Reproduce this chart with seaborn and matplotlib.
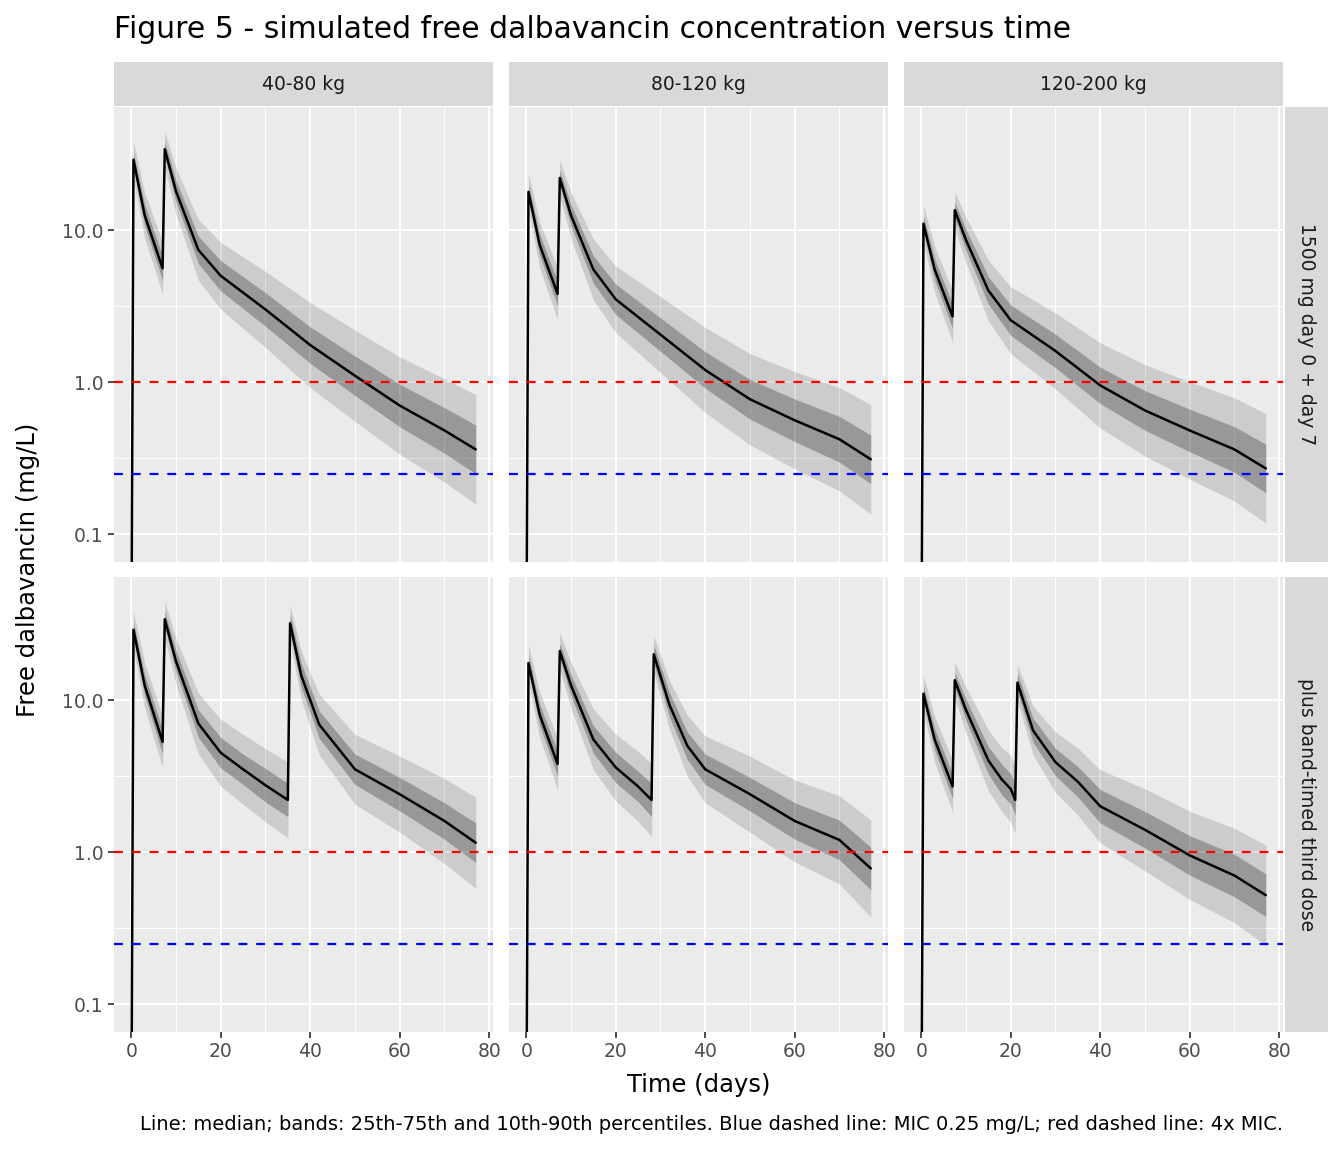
import matplotlib
matplotlib.use("Agg")
import matplotlib.pyplot as plt
import seaborn as sns
import numpy as np
import pandas as pd

weights = ["40-80 kg", "80-120 kg", "120-200 kg"]
regimens = ["1500 mg day 0 + day 7", "plus band-timed third dose"]

# median profiles (row, col)
t_r1 = [0, 0.5, 3, 7, 7.5, 10, 15, 20, 30, 40, 50, 60, 70, 77]
med_r1 = [
    [0.01, 29, 12.5, 5.6, 34, 18, 7.4, 5.0, 3.0, 1.75, 1.1, 0.7, 0.48, 0.36],
    [0.01, 17.8, 8.0, 3.8, 22, 12.5, 5.5, 3.5, 2.05, 1.2, 0.77, 0.56, 0.42, 0.31],
    [0.01, 11, 5.5, 2.7, 13.5, 8.6, 4.0, 2.55, 1.6, 0.95, 0.65, 0.48, 0.36, 0.27],
]
# log10 spreads (25-75 half width, 10-90 half width)
s25_r1 = [0, 0.05, 0.07, 0.08, 0.05, 0.07, 0.09, 0.1, 0.11, 0.12, 0.13, 0.14, 0.15, 0.16]
s10_r1 = [0, 0.12, 0.15, 0.17, 0.12, 0.15, 0.2, 0.22, 0.25, 0.28, 0.3, 0.32, 0.34, 0.36]

t_r2 = [
    [0, 0.5, 3, 7, 7.5, 10, 15, 20, 25, 30, 35, 35.5, 38, 42, 50, 60, 70, 77],
    [0, 0.5, 3, 7, 7.5, 10, 15, 20, 25, 28, 28.5, 32, 36, 40, 50, 60, 70, 77],
    [0, 0.5, 3, 7, 7.5, 10, 15, 18, 20, 21, 21.5, 25, 30, 35, 40, 50, 60, 70, 77],
]
med_r2 = [
    [0.01, 29, 12.5, 5.3, 34, 18, 7.0, 4.5, 3.5, 2.75, 2.2, 32, 14.5, 6.9, 3.5, 2.4, 1.6, 1.15],
    [0.01, 17.5, 8.0, 3.8, 21, 12.5, 5.5, 3.6, 2.7, 2.2, 20, 9.3, 5.0, 3.5, 2.4, 1.6, 1.2, 0.78],
    [0.01, 11, 5.5, 2.7, 13.5, 8.6, 4.0, 3.0, 2.6, 2.2, 13, 6.3, 3.9, 2.9, 2.0, 1.4, 0.95, 0.7, 0.52],
]
s25_r2 = [
    [0, 0.05, 0.07, 0.08, 0.05, 0.07, 0.09, 0.1, 0.1, 0.11, 0.11, 0.06, 0.08, 0.09, 0.1, 0.11, 0.12, 0.13],
    [0, 0.05, 0.07, 0.08, 0.05, 0.07, 0.09, 0.1, 0.1, 0.11, 0.06, 0.08, 0.09, 0.1, 0.11, 0.12, 0.13, 0.14],
    [0, 0.05, 0.07, 0.08, 0.05, 0.07, 0.09, 0.1, 0.1, 0.1, 0.06, 0.08, 0.09, 0.1, 0.11, 0.12, 0.13, 0.14, 0.14],
]
s10_r2 = [
    [0, 0.12, 0.15, 0.17, 0.12, 0.15, 0.2, 0.22, 0.23, 0.24, 0.25, 0.12, 0.16, 0.2, 0.23, 0.25, 0.28, 0.3],
    [0, 0.12, 0.15, 0.17, 0.12, 0.15, 0.2, 0.22, 0.23, 0.24, 0.12, 0.16, 0.2, 0.22, 0.25, 0.27, 0.29, 0.32],
    [0, 0.12, 0.15, 0.17, 0.12, 0.15, 0.2, 0.21, 0.22, 0.22, 0.12, 0.16, 0.2, 0.22, 0.24, 0.27, 0.29, 0.31, 0.33],
]
mic = 0.25
mic4 = 1.0

sns.set_theme(style="darkgrid")
plt.rcParams['font.family'] = ['DejaVu Sans']
fig = plt.figure(figsize=(13.44, 11.52), dpi=100)
W, H = 1344, 1152
px = [(114, 493), (509, 888), (904, 1283)]
py = [(107, 562), (577, 1032)]
ylo, yhi = 10 ** (-1 - 28 / 152), 10 ** (1 + 123 / 152)

for r in range(2):
    for c in range(3):
        x0, x1 = px[c]; y0, y1 = py[r]
        ax = fig.add_axes([x0 / W, 1 - y1 / H, (x1 - x0) / W, (y1 - y0) / H])
        ax.set_facecolor("#EBEBEB")
        if r == 0:
            t = np.array(t_r1); m = np.array(med_r1[c]); s25 = np.array(s25_r1); s10 = np.array(s10_r1)
        else:
            t = np.array(t_r2[c]); m = np.array(med_r2[c]); s25 = np.array(s25_r2[c]); s10 = np.array(s10_r2[c])
        tt, mm, a, b = t[1:], m[1:], s25[1:], s10[1:]
        ax.fill_between(tt, mm * 10 ** -b, mm * 10 ** b, color="#000000", alpha=0.13, lw=0)
        ax.fill_between(tt, mm * 10 ** -a, mm * 10 ** a, color="#000000", alpha=0.25, lw=0)
        df = pd.DataFrame({"t": t, "m": m})
        sns.lineplot(data=df, x="t", y="m", ax=ax, color="black", lw=1.8)
        ax.axhline(mic4, color="red", ls=(0, (4, 4)), lw=1.6)
        ax.axhline(mic, color="blue", ls=(0, (4, 4)), lw=1.6)
        ax.set_yscale("log")
        ax.set_ylim(ylo, yhi)
        ax.set_xlim(-3.85, 80.85)
        ax.set_xticks([0, 20, 40, 60, 80])
        ax.set_xticks([10, 30, 50, 70], minor=True)
        ax.set_yticks([0.1, 1.0, 10.0])
        ax.set_yticks([10 ** -0.5, 10 ** 0.5], minor=True)
        ax.grid(which="major", color="white", lw=1.4)
        ax.grid(which="minor", color="white", lw=0.7)
        ax.set_xlabel(""); ax.set_ylabel("")
        for sp in ax.spines.values():
            sp.set_visible(False)
        ax.tick_params(which="major", length=4, color="#333333", labelsize=13.5, labelcolor="#4D4D4D", left=True, bottom=True)
        ax.tick_params(which="minor", length=0)
        if c == 0:
            ax.set_yticklabels(["0.1", "1.0", "10.0"])
        else:
            ax.set_yticklabels([]); ax.tick_params(axis="y", length=0)
        if r == 0:
            ax.set_xticklabels([]); ax.tick_params(axis="x", length=0)
            sax = fig.add_axes([x0 / W, 1 - 106 / H, (x1 - x0) / W, 44 / H])
            sax.set_facecolor("#D9D9D9"); sax.set_xticks([]); sax.set_yticks([])
            for sp in sax.spines.values(): sp.set_visible(False)
            sax.text(0.5, 0.5, weights[c], ha="center", va="center", fontsize=13.5, color="#1A1A1A", transform=sax.transAxes)
        if c == 2:
            rax = fig.add_axes([1285 / W, 1 - y1 / H, 43 / W, (y1 - y0) / H])
            rax.set_facecolor("#D9D9D9"); rax.set_xticks([]); rax.set_yticks([])
            for sp in rax.spines.values(): sp.set_visible(False)
            rax.text(0.5, 0.5, regimens[r], ha="center", va="center", rotation=-90, fontsize=13.5, color="#1A1A1A", transform=rax.transAxes)

fig.text(114 / W, 1 - 30 / H, "Figure 5 - simulated free dalbavancin concentration versus time", fontsize=21.5, va="center", ha="left", color="black")
fig.text(28 / W, 1 - 570 / H, "Free dalbavancin (mg/L)", rotation=90, fontsize=17.5, va="center", ha="center", color="black")
fig.text(699 / W, 1 - 1085 / H, "Time (days)", fontsize=17.5, va="center", ha="center", color="black")
fig.text(1283 / W, 1 - 1124 / H, "Line: median; bands: 25th-75th and 10th-90th percentiles. Blue dashed line: MIC 0.25 mg/L; red dashed line: 4x MIC.",
         fontsize=14, va="center", ha="right", color="black")
fig.savefig("out.png", dpi=100, facecolor="white")
